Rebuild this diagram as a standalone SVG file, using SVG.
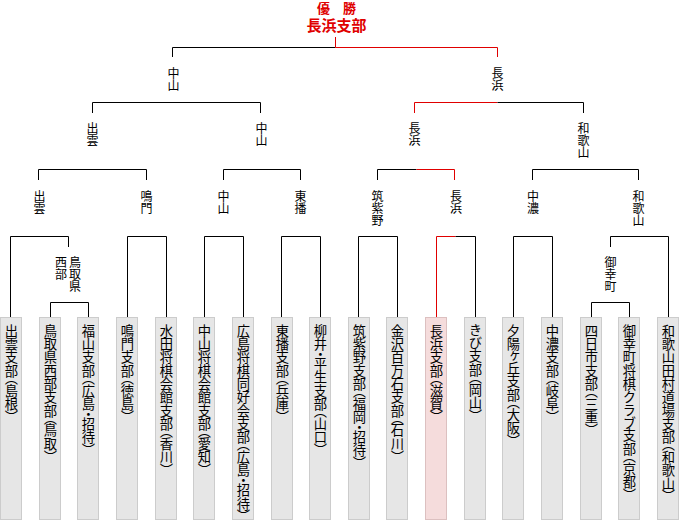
<svg xmlns="http://www.w3.org/2000/svg" width="680" height="520" viewBox="0 0 680 520">
<style>
.bg{fill:#ffffff}
.box{fill:#e6e6e6;stroke:#cccccc;stroke-width:1}
.win{fill:#f5dcdc;stroke:#dcc0c0;stroke-width:1}
.bt{font-family:"Noto Sans CJK JP","Noto Sans CJK SC",sans-serif;font-size:13.3px;fill:#000;writing-mode:vertical-rl;font-feature-settings:"vpal"}
.lb{font-family:"Noto Sans CJK JP","Noto Sans CJK SC",sans-serif;font-size:12px;fill:#000;writing-mode:vertical-rl}
.ttl{font-family:"Noto Sans CJK JP","Noto Sans CJK SC",sans-serif;font-weight:bold;fill:#e00000;text-anchor:middle}
.k{fill:none;stroke:#000;stroke-width:1}
.r{fill:none;stroke:#e00000;stroke-width:1}
</style>
<rect class="bg" x="0" y="0" width="680" height="520"/>

<g id="connectors">
  <!-- final -->
  <path class="k" d="M335.5,47.5 H172.5 V57"/>
  <path class="r" d="M335.5,37 V47.5 H497.5 V57"/>
  <!-- semifinal brackets -->
  <path class="k" d="M92.5,113 V102.5 H260.5 V113"/>
  <path class="r" d="M414.5,113 V102.5 H497.5"/>
  <path class="k" d="M497.5,102.5 H583.5 V113"/>
  <!-- quarterfinal brackets -->
  <path class="k" d="M38.5,180 V169.5 H146.5 V180"/>
  <path class="k" d="M223.5,180 V169.5 H300.5 V180"/>
  <path class="k" d="M377.5,180 V169.5 H416.5"/>
  <path class="r" d="M416.5,169.5 H454.5 V180"/>
  <path class="k" d="M532.5,180 V169.5 H638.5 V180"/>
  <!-- first round brackets -->
  <path class="k" d="M10.5,317 V236.5 H68.5 V247"/>
  <path class="k" d="M50.5,317 V302.5 H88.5 V317"/>
  <path class="k" d="M127.5,317 V236.5 H166.5 V317"/>
  <path class="k" d="M204.5,317 V236.5 H243.5 V317"/>
  <path class="k" d="M281.5,317 V236.5 H320.5 V317"/>
  <path class="k" d="M358.5,317 V236.5 H397.5 V317"/>
  <path class="r" d="M436.5,317 V236.5 H455.5"/>
  <path class="k" d="M455.5,236.5 H475.5 V317"/>
  <path class="k" d="M513.5,317 V236.5 H552.5 V317"/>
  <path class="k" d="M610.5,247 V236.5 H668.5 V317"/>
  <path class="k" d="M591.5,317 V302.5 H629.5 V317"/>
</g>

<g id="title">
  <text class="ttl" x="336.5" y="12.5" font-size="13px">優　勝</text>
  <text class="ttl" x="336.5" y="31" font-size="15px">長浜支部</text>
</g>

<g id="semi-nakayama"><text class="lb" x="173.5" y="67">中山</text></g>
<g id="semi-nagahama"><text class="lb" x="497.5" y="67">長浜</text></g>

<g id="qf-izumo"><text class="lb" x="92.5" y="122">出雲</text></g>
<g id="qf-nakayama"><text class="lb" x="261.5" y="122">中山</text></g>
<g id="qf-nagahama"><text class="lb" x="414.5" y="122">長浜</text></g>
<g id="qf-wakayama"><text class="lb" x="583.5" y="122">和歌山</text></g>

<g id="r2-izumo"><text class="lb" x="39.5" y="190.5">出雲</text></g>
<g id="r2-naruto"><text class="lb" x="146.5" y="190.5">鳴門</text></g>
<g id="r2-nakayama"><text class="lb" x="223.5" y="190.5">中山</text></g>
<g id="r2-tobanb"><text class="lb" x="300.5" y="190.5">東播</text></g>
<g id="r2-chikushino"><text class="lb" x="377.5" y="190.5">筑紫野</text></g>
<g id="r2-nagahama"><text class="lb" x="456" y="190.5">長浜</text></g>
<g id="r2-chuno"><text class="lb" x="533" y="190.5">中濃</text></g>
<g id="r2-wakayama"><text class="lb" x="638.5" y="190.5">和歌山</text></g>

<g id="r1-tottori"><text class="lb" x="75" y="256">鳥取県</text><text class="lb" x="61" y="256">西部</text></g>
<g id="r1-miyuki"><text class="lb" x="610.5" y="256">御幸町</text></g>

<g id="box1"><rect class="box" x="0.5" y="317.5" width="21" height="202"/><text class="bt" x="11.5" y="324">出雲支部（島根）</text></g>
<g id="box2"><rect class="box" x="39.5" y="317.5" width="21" height="202"/><text class="bt" x="50.5" y="324">鳥取県西部支部（鳥取）</text></g>
<g id="box3"><rect class="box" x="77.5" y="317.5" width="21" height="202"/><text class="bt" x="88.5" y="324">福山支部（広島・招待）</text></g>
<g id="box4"><rect class="box" x="116.5" y="317.5" width="21" height="202"/><text class="bt" x="127.5" y="324">鳴門支部（徳島）</text></g>
<g id="box5"><rect class="box" x="155.5" y="317.5" width="21" height="202"/><text class="bt" x="166.5" y="324">水田将棋会館支部（香川）</text></g>
<g id="box6"><rect class="box" x="193.5" y="317.5" width="21" height="202"/><text class="bt" x="204.5" y="324">中山将棋会館支部（愛知）</text></g>
<g id="box7"><rect class="box" x="232.5" y="317.5" width="21" height="202"/><text class="bt" x="243.5" y="324">広島将棋同好会支部（広島・招待）</text></g>
<g id="box8"><rect class="box" x="271.5" y="317.5" width="21" height="202"/><text class="bt" x="282.5" y="324">東播支部（兵庫）</text></g>
<g id="box9"><rect class="box" x="309.5" y="317.5" width="21" height="202"/><text class="bt" x="320.5" y="324">柳井・平生支部（山口）</text></g>
<g id="box10"><rect class="box" x="348.5" y="317.5" width="21" height="202"/><text class="bt" x="359.5" y="324">筑紫野支部（福岡・招待）</text></g>
<g id="box11"><rect class="box" x="386.5" y="317.5" width="21" height="202"/><text class="bt" x="397.5" y="324">金沢百万石支部（石川）</text></g>
<g id="box12"><rect class="win" x="425.5" y="317.5" width="21" height="202"/><text class="bt" x="436.5" y="324">長浜支部（滋賀）</text></g>
<g id="box13"><rect class="box" x="464.5" y="317.5" width="21" height="202"/><text class="bt" x="475.5" y="324">きび支部（岡山）</text></g>
<g id="box14"><rect class="box" x="502.5" y="317.5" width="21" height="202"/><text class="bt" x="513.5" y="324">夕陽ヶ丘支部（大阪）</text></g>
<g id="box15"><rect class="box" x="541.5" y="317.5" width="21" height="202"/><text class="bt" x="552.5" y="324">中濃支部（岐阜）</text></g>
<g id="box16"><rect class="box" x="580.5" y="317.5" width="21" height="202"/><text class="bt" x="591.5" y="324">四日市支部（三重）</text></g>
<g id="box17"><rect class="box" x="618.5" y="317.5" width="21" height="202"/><text class="bt" x="629.5" y="324">御幸町将棋クラブ支部（京都）</text></g>
<g id="box18"><rect class="box" x="657.5" y="317.5" width="21" height="202"/><text class="bt" x="668.5" y="324">和歌山田村道場支部（和歌山）</text></g>
</svg>
